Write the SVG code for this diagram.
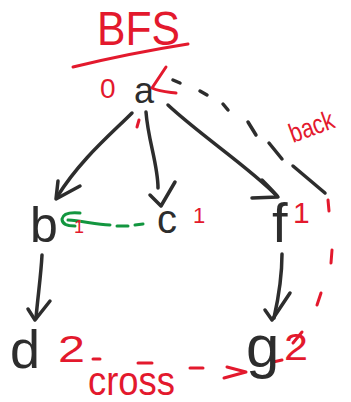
<svg xmlns="http://www.w3.org/2000/svg" width="351" height="402" viewBox="0 0 351 402">
  <style>
    .ink { fill: none; stroke: #2d2d2d; stroke-width: 3.5; stroke-linecap: round; stroke-linejoin: round; }
    .red { fill: none; stroke: #e3192d; stroke-width: 3; stroke-linecap: round; stroke-linejoin: round; }
    .grn { fill: none; stroke: #12963f; stroke-width: 3; stroke-linecap: round; stroke-linejoin: round; }
    .lbl { font-family: "Liberation Sans", Arial, sans-serif; fill: #2d2d2d; }
    .rlbl { font-family: "Liberation Sans", Arial, sans-serif; fill: #e3192d; }
  </style>

  <!-- title -->
  <g id="title">
    <text class="rlbl" x="97" y="45" font-size="48" textLength="83" lengthAdjust="spacingAndGlyphs">BFS</text>
    <path class="red" d="M73,67 C110,58 150,50 188,44"/>
  </g>

  <!-- edges -->
  <g id="connectors">
    <!-- a -> b -->
    <path class="ink" d="M132,113 C110,135 80,160 57,197"/>
    <path class="ink" d="M58,181 L56,199 L80,186"/>
    <!-- a -> c -->
    <path class="ink" d="M146,112 C148,140 158,165 158,188"/>
    <path class="ink" d="M150,195 L161,206 L175,182"/>
    <!-- a -> f -->
    <path class="ink" d="M168,105 C200,135 250,168 277,196"/>
    <path class="ink" d="M262,180 C268,186 274,192 278,197 L252,198"/>
    <!-- b -> d -->
    <path class="ink" d="M42,255 C41,275 38,295 36,318"/>
    <path class="ink" d="M28,309 L35,320 L50,301"/>
    <!-- f -> g -->
    <path class="ink" d="M282,254 C282,275 278,300 274,318"/>
    <path class="ink" d="M265,310 L272,320 L290,293"/>

    <!-- c -> b (green, dashed) -->
    <path class="grn" d="M110,225 C95,224 82,221 68,220"/>
    <path class="grn" d="M117,226 L128,226 M135,225 L143,224"/>
    <path class="grn" d="M80,213 C70,212 63,214 62,219 C62,224 68,226 75,226"/>

    <!-- back edge: g up to a -->
    <path class="ink" stroke-width="2" d="M173,80 L180,83 M200,91 L207,95 M223,104 L228,110 M248,122 L256,135 M269,143 L282,159 M293,166 L325,193"/>
    <path class="red" stroke-width="2.5" d="M328,200 L329,211 M332,250 L331,263 M321,293 L317,305 M302,332 L293,343 M273,362 L282,360"/>
    <text class="rlbl" x="293" y="143" font-size="27" textLength="46" lengthAdjust="spacingAndGlyphs" transform="rotate(-20 293 143)">back</text>

    <!-- cross edge: d -> g -->
    <path class="red" d="M93,359 L100,359 M138,363 L152,363 M190,368 L203,368"/>
    <path class="red" d="M227,367 L246,372 L224,378"/>
    <text class="rlbl" x="88" y="395" font-size="40" textLength="87" lengthAdjust="spacingAndGlyphs">cross</text>
  </g>

  <!-- nodes -->
  <g id="node-a">
    <text class="lbl" x="134" y="103" font-size="36">a</text>
    <text class="rlbl" x="100" y="98" font-size="28">0</text>
    <path class="red" d="M166,67 L152,88 C160,92 168,92 176,93"/>
    <path class="red" d="M139,120 L137,127"/>
  </g>
  <g id="node-b">
    <text class="lbl" x="30" y="242" font-size="50">b</text>
    <text class="rlbl" x="74" y="233" font-size="18">1</text>
  </g>
  <g id="node-c">
    <text class="lbl" x="157" y="233" font-size="40">c</text>
    <text class="rlbl" x="193" y="223" font-size="22">1</text>
  </g>
  <g id="node-d">
    <text class="lbl" x="10" y="368" font-size="54">d</text>
    <text class="rlbl" x="58" y="362" font-size="36" textLength="27" lengthAdjust="spacingAndGlyphs">2</text>
  </g>
  <g id="node-f">
    <text class="lbl" x="272" y="242" font-size="56">f</text>
    <text class="rlbl" x="293" y="223" font-size="30">1</text>
  </g>
  <g id="node-g">
    <text class="lbl" x="246" y="367" font-size="60">g</text>
    <text class="rlbl" x="284" y="360" font-size="36" textLength="24" lengthAdjust="spacingAndGlyphs">2</text>
  </g>
</svg>
